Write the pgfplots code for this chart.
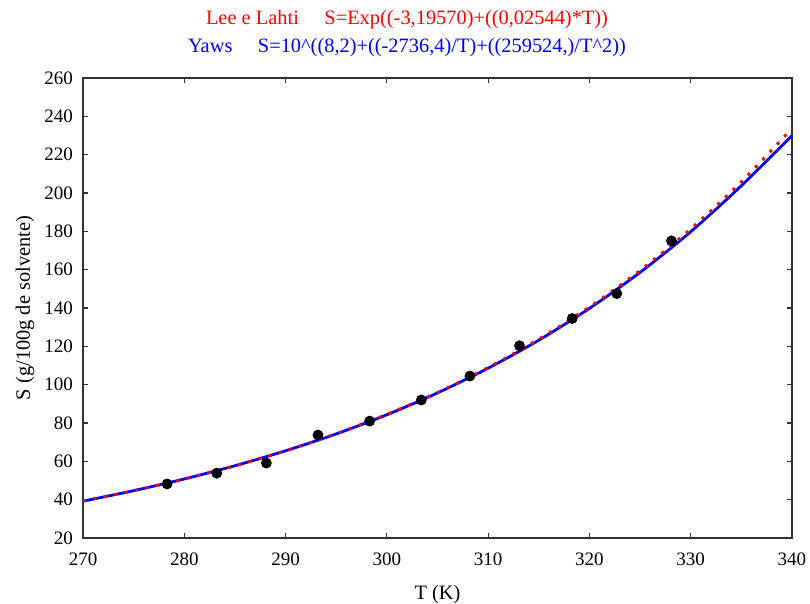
\documentclass[border=0pt]{standalone}
\usepackage{fontspec}
\setmainfont{Liberation Serif}
\usepackage{pgfplots}
\pgfplotsset{compat=1.18}
\begin{document}
\begin{tikzpicture}
\begin{axis}[
    scale only axis,
    width=354.5pt, height=230pt,
    xmin=270, xmax=340, ymin=20, ymax=260,
    xtick={270,280,...,340}, ytick={20,40,...,260},
    tick align=inside, major tick length=2.5pt,
    axis line style={line width=0.8pt, black!80},
    every tick/.style={black!80, line width=0.6pt},
    tick label style={font=\fontsize{9.5}{11}\selectfont},
    xticklabel style={yshift=-4pt},
    yticklabel style={xshift=-1.5pt},
    /pgf/number format/assume math mode=true,
    xlabel={T (K)}, ylabel={S (g/100g de solvente)},
    label style={font=\fontsize{10.2}{12}\selectfont},
    xlabel style={at={(axis description cs:0.5,-0.124)}, anchor=center},
    ylabel style={at={(axis description cs:-0.082,0.5)}, anchor=center},
    clip=false,
]
% experimental points
\addplot[only marks, mark=*, mark size=2.5pt, black] coordinates {
    (278.3,48.2)(283.2,53.8)(288.1,59.1)(293.2,73.7)(298.3,81.0)(303.4,92.0)
    (308.2,104.5)(313.1,120.3)(318.3,134.5)(322.7,147.5)(328.1,175.0)
};
% Yaws
\addplot[blue, line width=1.4pt, smooth] coordinates {
    (270,39.2)(275,44.7)(280,50.8)(285,57.7)(290,65.5)(295,74.3)(300,84.3)
    (305,95.7)(310,108.6)(315,123.2)(320,139.8)(325,158.6)(330,179.8)(335,203.8)(340,230.0)
};
% Lee e Lahti
\addplot[red, line width=1.5pt, dash pattern=on 1.5pt off 3.8pt, smooth] coordinates {
    (270,39.37)(275,44.70)(280,50.77)(285,57.66)(290,65.48)(295,74.37)(300,84.46)
    (305,95.92)(310,108.93)(315,123.71)(320,140.50)(325,159.56)(330,181.21)(335,205.80)(340,233.72)
};
\node[red, font=\fontsize{10.2}{12}\selectfont] at (axis description cs:0.457,1.126)
    {Lee e Lahti\quad\ S=Exp((-3,19570)+((0,02544)*T))};
\node[blue, font=\fontsize{10.2}{12}\selectfont] at (axis description cs:0.457,1.067)
    {Yaws\quad\ S=10\textasciicircum((8,2)+((-2736,4)/T)+((259524,)/T\textasciicircum2))};
\coordinate (bl) at (axis description cs:-0.1171,-0.1435);
\coordinate (tr) at (axis description cs:1.0254,1.1696);
\end{axis}
\pgfresetboundingbox
\path (bl) rectangle (tr);
\end{tikzpicture}
\end{document}
